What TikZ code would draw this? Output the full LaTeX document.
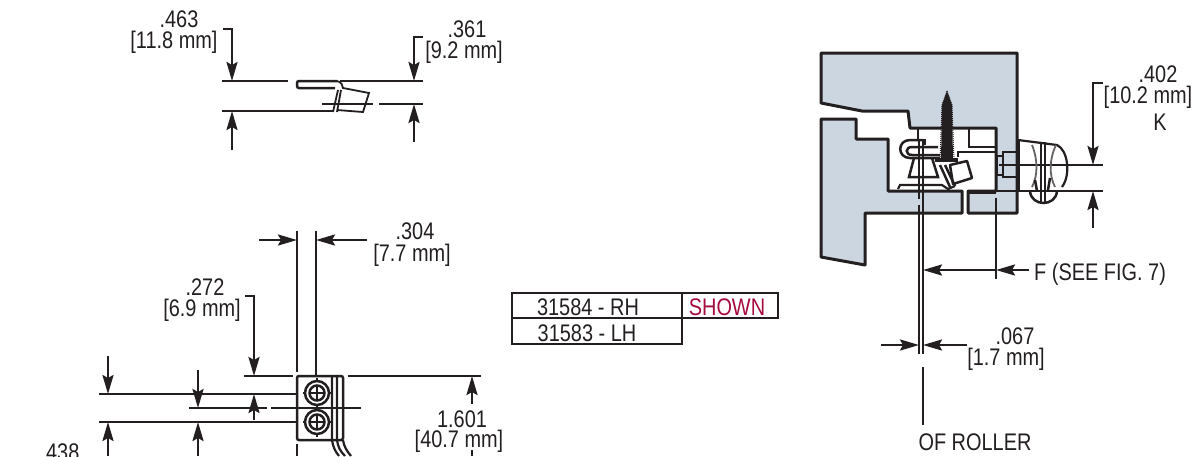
\documentclass[tikz,border=0pt]{standalone}
\usepackage{fontspec}
\setmainfont[FakeStretch=0.83]{Liberation Sans}
\usetikzlibrary{arrows.meta}
\definecolor{plate}{HTML}{CBD6E0}
\definecolor{shown}{HTML}{A6093D}
\definecolor{ink}{HTML}{231F20}

\tikzset{
  dimline/.style={draw=ink,line width=2.5pt,>={Stealth[length=19pt,width=11pt,inset=3pt]}},
  thinpart/.style={draw=ink,line width=1.8pt},
  edgepart/.style={draw=ink,line width=3pt,line join=round},
  dimtext/.style={anchor=base,inner sep=0pt,text=ink,font=\fontsize{24}{24}\selectfont},
}

\begin{document}
\begin{tikzpicture}[x=1pt,y=-1pt]
  \useasboundingbox (0,0) rectangle (1199,456);

  % top view
  \node[dimtext] (d463) at (179,27) {.463};
  \node[dimtext] (d463mm) at (174,48) {[11.8 mm]};
  \node[dimtext] (d361) at (467,37) {.361};
  \node[dimtext] (d361mm) at (464,58) {[9.2 mm]};
  \draw[dimline] (222,81) -- (288,81) (340,81) -- (423,81);
  \draw[dimline] (222,111) -- (333,111) (379,104) -- (423,104);
  \draw[dimline,->] (223,29) -- (232,29) -- (232,81);
  \draw[dimline,->] (232,150) -- (232,111);
  \draw[dimline,->] (423,37) -- (414,37) -- (414,81);
  \draw[dimline,->] (414,142) -- (414,104);
  \draw[dimline,rounded corners=2pt] (337,81) -- (297,81) -- (297,88) -- (335,88);
  \draw[thinpart] (337,81) .. controls (341,82) and (343,85) .. (343,88) -- (369,93) -- (363,112) -- (337,110);
  \draw[thinpart] (338,90) -- (333,112) (341,90) -- (337,112);
  \draw[thinpart] (322,104) -- (373,104);

  % front view
  \node[dimtext] (d304) at (415,239) {.304};
  \node[dimtext] (d304mm) at (412,261) {[7.7 mm]};
  \node[dimtext] (d272) at (205,295) {.272};
  \node[dimtext] (d272mm) at (202,316) {[6.9 mm]};
  \node[dimtext] (d1601) at (462,427) {1.601};
  \node[dimtext] (d1601mm) at (459,447) {[40.7 mm]};
  \node[dimtext] (d438) at (60,460) {.438};
  \draw[dimline] (297,231) -- (297,372) (316,231) -- (316,375) (297,444) -- (297,456);
  \draw[dimline,->] (259,240) -- (297,240);
  \draw[dimline,->] (367,240) -- (316,240);
  \draw[dimline,->] (245,296) -- (254,296) -- (254,376);
  \draw[dimline] (244,376) -- (293,376) (348,376) -- (481,376);
  \draw[dimline] (99,394) -- (297,394) (99,422) -- (297,422) (189,408) -- (267,408);
  \draw[thinpart] (271,408) -- (361,408);
  \draw[dimline,->] (108,356) -- (108,394);
  \draw[dimline,->] (108,456) -- (108,422);
  \draw[dimline,->] (198,370) -- (198,408);
  \draw[dimline,->] (198,456) -- (198,422);
  \draw[dimline,->] (254,420) -- (254,394);
  \draw[dimline,->] (472,404) -- (472,376);
  \draw[dimline] (472,450) -- (472,456);
  \draw[dimline,rounded corners=2pt] (297,376) rectangle (343,440);
  \draw[thinpart,line width=2.2pt] (332,376) -- (332,440) .. controls (333,447) and (335,451) .. (339,456);
  \draw[thinpart,line width=2.2pt] (337,376) -- (337,440) .. controls (338,447) and (340,451) .. (345,456);
  \draw[thinpart,line width=2.2pt] (343,440) .. controls (344,447) and (347,451) .. (351,456);
  \foreach \cy/\sname in {393/screwa,422/screwb} {
    \node[circle,draw=ink,line width=2.5pt,minimum size=24pt,inner sep=0pt] (\sname) at (317,\cy) {};
    \draw[thinpart,line width=2.5pt] (\sname.center) circle (7.5);
    \draw[thinpart] (309,\cy) -- (325,\cy) (317,\cy-8) -- (317,\cy+8);
    \draw[thinpart] (303,\cy) -- (306,\cy) (328,\cy) -- (331,\cy) (317,\cy-15) -- (317,\cy-12) (317,\cy+12) -- (317,\cy+15);
  }

  % table
  \draw[dimline] (512,293) rectangle (778,318) (512,318) rectangle (682,344) (682,293) -- (682,318);
  \node[dimtext] (rhpart) at (588,315) {31584 - RH};
  \node[dimtext] (lhpart) at (587,341) {31583 - LH};
  \node[dimtext,text=shown] (shownmark) at (727,315) {SHOWN};

  % side view
  \draw[edgepart,fill=plate] (821,53) -- (1017,53) -- (1017,213) -- (968,213) -- (968,191) -- (996,191) -- (996,128)
    -- (910,128) -- (908,111) -- (862,111) -- (821,103) -- cycle;
  \draw[edgepart,fill=plate] (821,119) -- (856,119) -- (856,139) -- (888,139) -- (888,191) -- (962,191) -- (962,213)
    -- (865,213) -- (865,265) -- (821,257) -- cycle;
  \draw[dimline] (969,128) -- (969,147) -- (996,147);
  \draw[thinpart,line width=2.2pt] (958,157) -- (958,152) -- (996,152);
  \draw[dimline] (923,140) -- (910,140) .. controls (897,140) and (897,158) .. (910,158) -- (940,158);
  \draw[dimline] (938,147) -- (912,147) .. controls (905,147) and (905,155) .. (912,155) -- (940,155);
  \draw[dimline] (918,128) -- (918,140) -- (925,140) -- (925,145);
  \draw[dimline] (914,158) -- (909,177) -- (938,177) -- (932,158);
  \draw[thinpart,line width=2.2pt] (898,189) -- (900,185) -- (942,185) -- (948,189) -- (955,186);
  \draw[dimline] (940,165) -- (950,187) (945,165) -- (955,186);
  \draw[dimline,line join=round] (950,165) -- (967,161) -- (972,178) -- (953,184) -- cycle;
  \fill[ink] (947,91) -- (952,105) -- (953,160) -- (941,160) -- (942,105) -- cycle;
  \draw[ink,line width=1pt,densely dotted] (947,91) -- (952,105) -- (954,160) (947,91) -- (942,105) -- (940,160);
  \draw[ink,line width=3.5pt] (935,160) -- (958,160);
  \draw[ink,line width=3.5pt] (967,192) -- (996,192);
  \draw[ink,line width=4.5pt] (1018,140) -- (1018,191);
  \draw[dimline] (997,156) -- (1003,156) -- (1003,152) -- (1016,152);
  \draw[dimline] (997,156) -- (997,175) -- (1003,175) -- (1003,177) -- (1016,177) (1003,152) -- (1003,177);
  \draw[dimline] (999,165) -- (1103,165) (967,191) -- (1103,191);
  \draw[thinpart,line width=2.2pt] (1018,140) -- (1057,145) .. controls (1068,150) and (1071,175) .. (1062,187);
  \draw[dimline] (1041,142) -- (1041,203) (1045,142) -- (1045,203);
  \draw[thinpart,draw=ink!70] (1032,145) .. controls (1038,160) and (1038,175) .. (1032,187);
  \draw[thinpart,draw=ink!70] (1056,145) .. controls (1049,160) and (1049,175) .. (1055,187);
  \draw[dimline] (1030,191) .. controls (1031,207) and (1056,207) .. (1057,191);
  \draw[dimline] (1035,180) -- (1037,191) (1050,178) -- (1048,190);

  \draw[dimline] (919,140) -- (919,199) (919,205) -- (919,354) (923,140) -- (923,354) (923,367) -- (923,425);
  \draw[dimline] (996,198) -- (996,279);
  \draw[dimline,->] (996,270) -- (923,270);
  \draw[dimline,->] (1029,270) -- (996,270);
  \draw[dimline,->] (881,345) -- (919,345);
  \draw[dimline,->] (967,345) -- (923,345);
  \draw[dimline,->] (1103,83) -- (1093,83) -- (1093,165);
  \draw[dimline,->] (1093,228) -- (1093,191);
  \node[dimtext] (d402) at (1158,82) {.402};
  \node[dimtext] (d402mm) at (1148,103) {[10.2 mm]};
  \node[dimtext] (dimk) at (1160,130) {K};
  \node[dimtext,anchor=base west] (dimf) at (1034,280) {F (SEE FIG. 7)};
  \node[dimtext] (d067) at (1015,344) {.067};
  \node[dimtext] (d067mm) at (1006,365) {[1.7 mm]};
  \node[dimtext] (rollerc) at (975,450) {OF ROLLER};
\end{tikzpicture}
\end{document}
